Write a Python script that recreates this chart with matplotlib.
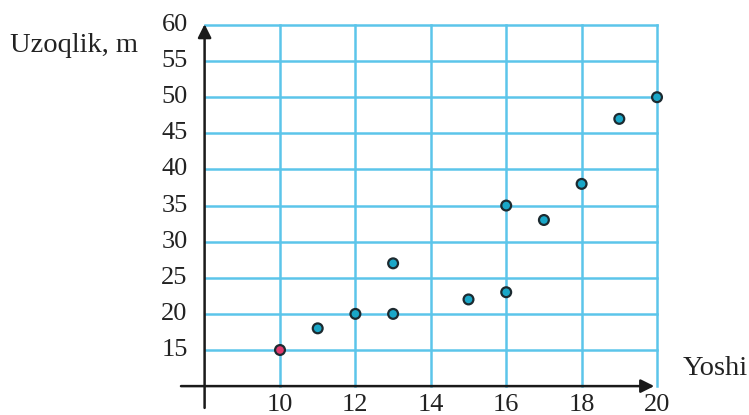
import matplotlib.pyplot as plt
import numpy as np

# age (years) vs distance (m)
ages = [10, 11, 12, 13, 13, 15, 16, 16, 17, 18, 19, 20]
distances = [15, 18, 20, 20, 27, 22, 23, 35, 33, 38, 47, 50]
x_ticks = [10, 12, 14, 16, 18, 20]
y_ticks = [15, 20, 25, 30, 35, 40, 45, 50, 55, 60]

plt.rcParams['font.family'] = ['Liberation Serif', 'DejaVu Serif']

fig = plt.figure(figsize=(7.49, 4.15), dpi=100)
ax = fig.add_axes([0, 0, 1, 1])
ax.set_xlim(2.573, 22.44)
ax.set_ylim(6.0, 63.46)
ax.axis('off')

grid_col = '#5cc5ea'
x0, y0 = 8, 10
for xv in x_ticks:
    ax.plot([xv, xv], [y0, 60], color=grid_col, lw=1.8, zorder=1)
for yv in y_ticks:
    ax.plot([x0, 20], [yv, yv], color=grid_col, lw=1.8, zorder=1)

# axes with arrows
ax.annotate('', xy=(20.0, y0), xytext=(7.3, y0),
            arrowprops=dict(arrowstyle='-|>', color='#1a1a1a', lw=1.8,
                            mutation_scale=20), zorder=3)
ax.annotate('', xy=(x0, 60.5), xytext=(x0, 6.6),
            arrowprops=dict(arrowstyle='-|>', color='#1a1a1a', lw=1.8,
                            mutation_scale=20), zorder=3)

for xv in x_ticks:
    ax.text(xv, 8.85, str(xv), ha='center', va='top', fontsize=19, color='#222222')
for yv in y_ticks:
    ax.text(7.55, yv, str(yv), ha='right', va='center', fontsize=19, color='#222222')

ax.text(2.84, 57.2, 'Uzoqlik, m', ha='left', va='center', fontsize=20.5, color='#222222')
ax.text(20.69, 12.5, 'Yoshi', ha='left', va='center', fontsize=20.5, color='#222222')

colors = ['#e23a6e'] + ['#1aa7c8'] * (len(ages) - 1)
ax.scatter(ages, distances, s=50, c=colors, edgecolors='#1c2a30',
           linewidths=1.6, zorder=5)

fig.savefig('out.png', dpi=100)
